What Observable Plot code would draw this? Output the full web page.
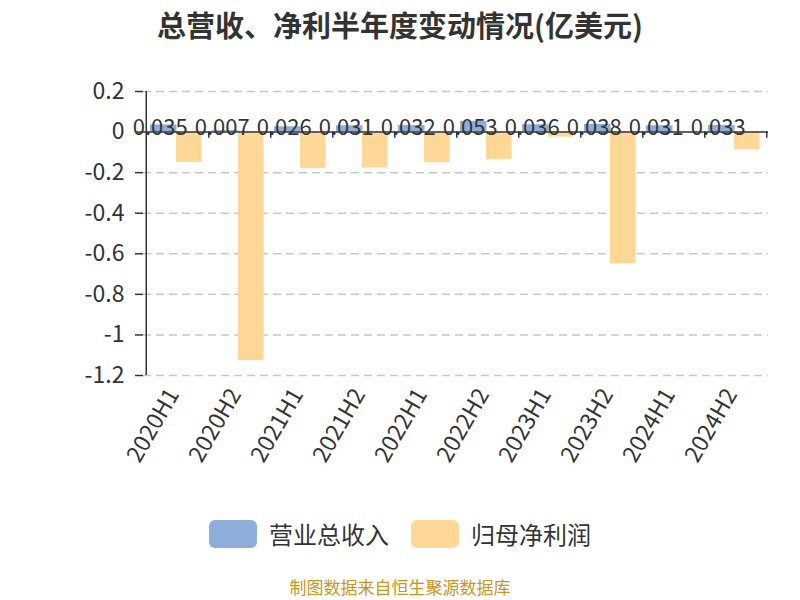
<!DOCTYPE html>
<html>
<head>
<meta charset="utf-8">
<script src="https://cdn.jsdelivr.net/npm/d3@7"></script>
<script src="https://cdn.jsdelivr.net/npm/@observablehq/plot@0.6"></script>
<style>
  body { margin: 0; background: #fff; font-family: "Noto Sans CJK SC", "Noto Sans", sans-serif; }
  #wrap { position: relative; width: 800px; height: 600px; overflow: hidden; }
  #title { position: absolute; top: 5px; left: 0; width: 800px; text-align: center; font-size: 29px; font-weight: bold; color: #333; line-height: 38px; }
  #chart { position: absolute; top: 50px; left: 0; }
  #legend { position: absolute; top: 516px; left: 0; width: 800px; display: flex; justify-content: center; align-items: center; font-size: 24px; color: #333; }
  .item { display: flex; align-items: center; margin: 0 11px; }
  .sw { width: 48px; height: 28px; border-radius: 6px; margin-right: 12px; }
  #caption { position: absolute; top: 577px; left: 0; width: 800px; text-align: center; font-size: 17px; color: #c8961e; line-height: 20px; }
</style>
</head>
<body>
<div id="wrap">
  <div id="title">总营收、净利半年度变动情况(亿美元)</div>
  <div id="chart"></div>
  <div id="legend"></div>
  <div id="caption">制图数据来自恒生聚源数据库</div>
</div>
<script>
const periods = ["2020H1","2020H2","2021H1","2021H2","2022H1","2022H2","2023H1","2023H2","2024H1","2024H2"];
const revenue = [0.035, 0.007, 0.026, 0.031, 0.032, 0.053, 0.036, 0.038, 0.031, 0.033];
const netProfit = [-0.150, -1.127, -0.180, -0.177, -0.151, -0.136, -0.025, -0.649, -0.003, -0.088];
const yTicks = [0.2, 0, -0.2, -0.4, -0.6, -0.8, -1, -1.2];
const seriesNames = ["营业总收入", "归母净利润"];
const colors = ["#8eaddb", "#ffd897"];

const revData = periods.map((p, i) => ({period: p, value: revenue[i]}));
const npData = periods.map((p, i) => ({period: p, value: netProfit[i]}));

const band = 625 / periods.length;

const plot = Plot.plot({
  width: 800,
  height: 460,
  marginTop: 41,
  marginBottom: 135,
  marginLeft: 143,
  marginRight: 32,
  style: { fontFamily: "'Noto Sans CJK SC', 'Noto Sans', sans-serif", color: "#333", background: "transparent" },
  x: { domain: periods, padding: 0, label: null },
  y: { domain: [-1.2, 0.2], label: null },
  marks: [
    Plot.ruleY(yTicks.filter(d => d !== 0), { stroke: "#c8c8c8", strokeWidth: 1.5, strokeDasharray: "8,5" }),
    Plot.barY(revData, { x: "period", y: "value", fill: colors[0], insetLeft: 4, insetRight: band - 31 }),
    Plot.barY(npData, { x: "period", y: "value", fill: colors[1], insetLeft: 30, insetRight: band - 56 }),
    Plot.ruleY([0], { stroke: "#333", strokeWidth: 1.5 }),
    Plot.ruleX(periods, { x: d => d, dx: band / 2, y1: 0, y2: -0.03, stroke: "#333", strokeWidth: 1.5 }),
    Plot.ruleX([periods[0]], { x: d => d, dx: -band / 2, y1: -1.2, y2: 0.2, stroke: "#333", strokeWidth: 1.5 }),
    Plot.axisY({ ticks: yTicks, tickSize: 8, tickPadding: 11, fontSize: 23, tickFormat: d => String(+d.toFixed(1)), stroke: "#333", strokeWidth: 1.5, fill: "#333" }),
    Plot.axisX({ tickSize: 0, tickPadding: 15, tickRotate: -60, fontSize: 23, dx: -4, fill: "#333" }),
    Plot.text(revData, { x: "period", y: () => 0, text: d => String(d.value), dx: -band / 2 + 14, dy: 3, lineAnchor: "bottom", fontSize: 22, fill: "#333" })
  ]
});
document.getElementById("chart").appendChild(plot);

const legend = document.getElementById("legend");
seriesNames.forEach((name, i) => {
  const item = document.createElement("div");
  item.className = "item";
  const sw = document.createElement("div");
  sw.className = "sw";
  sw.style.background = colors[i];
  const t = document.createElement("span");
  t.textContent = name;
  item.appendChild(sw);
  item.appendChild(t);
  legend.appendChild(item);
});
</script>
</body>
</html>
